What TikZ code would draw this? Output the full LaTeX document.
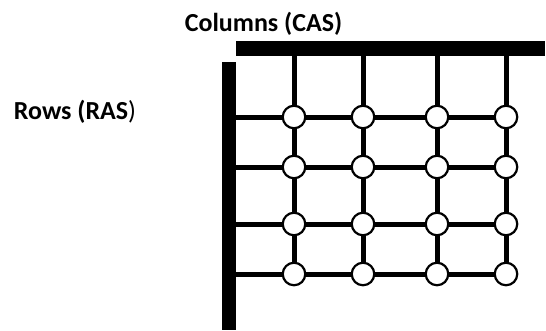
\documentclass[tikz,border=0pt]{standalone}
\usepackage{fontspec}
\setmainfont{Carlito}
\begin{document}
\begin{tikzpicture}[x=1pt,y=-1pt,
  bus/.style={fill=black,draw=none},
  wire/.style={line width=5pt},
  cell/.style={circle,draw,fill=white,line width=2.2pt,minimum size=22.5pt,inner sep=0pt},
  lbl/.style={font=\bfseries\fontsize{26}{31}\selectfont,inner sep=0pt}]
\useasboundingbox (0,0) rectangle (546,330);
% address buses
\fill[bus] (236,41) rectangle (545,56);
\fill[bus] (221.5,62) rectangle (236,330);
\node[lbl,anchor=base] (cas) at (263.5,31) {Columns (CAS)};
\node[lbl,anchor=base] (ras) at (75,119.5) {Rows (RAS{\mdseries)}};
% bus taps
\foreach \j/\x in {1/294,2/363,3/437,4/506}
  \coordinate (top\j) at (\x,56);
\foreach \i/\y in {1/117,2/167,3/224,4/274}
  \coordinate (left\i) at (236,\y);
% memory cells
\foreach \i/\y in {1/117,2/167,3/224,4/274}
  \foreach \j/\x in {1/294,2/363,3/437,4/506}
    \node[cell] (c\i\j) at (\x,\y) {};
% row lines
\foreach \i in {1,...,4}{
  \draw[wire] (left\i) -- (c\i1);
  \draw[wire] (c\i1) -- (c\i2);
  \draw[wire] (c\i2) -- (c\i3);
  \draw[wire] (c\i3) -- (c\i4);
}
% column lines
\foreach \j in {1,...,4}{
  \draw[wire] (top\j) -- (c1\j);
  \draw[wire] (c1\j) -- (c2\j);
  \draw[wire] (c2\j) -- (c3\j);
  \draw[wire] (c3\j) -- (c4\j);
}
\end{tikzpicture}
\end{document}
